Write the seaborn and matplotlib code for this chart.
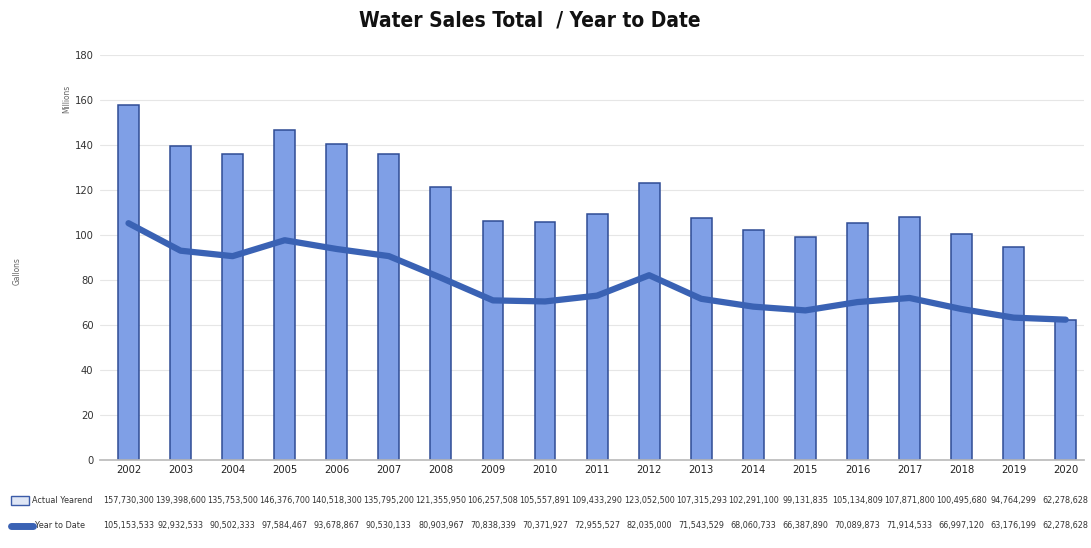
import matplotlib
matplotlib.use("Agg")
import matplotlib.pyplot as plt
import seaborn as sns
import pandas as pd
from matplotlib.transforms import blended_transform_factory
from matplotlib.patches import Rectangle
from matplotlib.lines import Line2D

years = ["2002", "2003", "2004", "2005", "2006", "2007", "2008", "2009", "2010", "2011",
         "2012", "2013", "2014", "2015", "2016", "2017", "2018", "2019", "2020"]
actual_yearend = [157730300, 139398600, 135753500, 146376700, 140518300, 135795200, 121355950,
                  106257508, 105557891, 109433290, 123052500, 107315293, 102291100, 99131835,
                  105134809, 107871800, 100495680, 94764299, 62278628]
year_to_date = [105153533, 92932533, 90502333, 97584467, 93678867, 90530133, 80903967,
                70838339, 70371927, 72955527, 82035000, 71543529, 68060733, 66387890,
                70089873, 71914533, 66997120, 63176199, 62278628]
y_ticks = [0, 20, 40, 60, 80, 100, 120, 140, 160, 180]

sns.set_theme(style="white")
plt.rcParams["font.family"] = ["DejaVu Sans"]
plt.rcParams["font.stretch"] = "condensed"

df = pd.DataFrame({"year": years,
                   "actual": [v / 1e6 for v in actual_yearend],
                   "ytd": [v / 1e6 for v in year_to_date]})

fig = plt.figure(figsize=(10.91, 5.48), dpi=100)
ax = fig.add_axes([0.092, 0.161, 0.902, 0.739])

bar_color = "#7f9fe6"
line_color = "#3a62b4"
sns.barplot(data=df, x="year", y="actual", order=years, color=bar_color, width=0.40,
            edgecolor="#2f4c94", linewidth=1.1, ax=ax, saturation=1)
sns.lineplot(x=list(range(len(years))), y=df["ytd"], color=line_color, linewidth=4.5,
             ax=ax, solid_joinstyle="round", solid_capstyle="round")

ax.set_xlim(-0.54, 18.36)
ax.set_ylim(0, 180)
ax.set_yticks(y_ticks)
ax.set_yticklabels([str(t) for t in y_ticks], fontsize=8, color="#333333")
ax.tick_params(axis="y", length=0, pad=5)
ax.tick_params(axis="x", length=0, pad=4, labelsize=8, labelcolor="#222222")
ax.set_xlabel("")
ax.set_ylabel("")
for t in y_ticks[1:]:
    ax.axhline(t, color="#e6e6e6", linewidth=0.8, zorder=0)
for s in ["top", "right", "left"]:
    ax.spines[s].set_visible(False)
ax.spines["bottom"].set_color("#bbbbbb")
ax.set_axisbelow(True)

fig.text(0.486, 0.963, "Water Sales Total  / Year to Date", ha="center", va="center",
         fontsize=15, fontweight="bold", color="#111111")
fig.text(0.016, 0.505, "Gallons", rotation=90, ha="center", va="center", fontsize=6,
         color="#666666")
fig.text(0.061, 0.82, "Millions", rotation=90, ha="center", va="center", fontsize=6,
         color="#666666")

trans = blended_transform_factory(ax.transData, fig.transFigure)
for i in range(len(years)):
    ax.text(i, 0.086, f"{actual_yearend[i]:,}", transform=trans, ha="center", va="center",
            fontsize=6.5, color="#333333", clip_on=False)
    ax.text(i, 0.041, f"{year_to_date[i]:,}", transform=trans, ha="center", va="center",
            fontsize=6.5, color="#333333", clip_on=False)

fig.text(0.029, 0.086, "Actual Yearend", ha="left", va="center", fontsize=6.5, color="#333333")
fig.text(0.032, 0.041, "Year to Date", ha="left", va="center", fontsize=6.5, color="#333333")
fig.patches.append(Rectangle((0.010, 0.079), 0.017, 0.016, transform=fig.transFigure,
                             facecolor="#dfe6f5", edgecolor="#3b5ba8", linewidth=1))
fig.lines.append(Line2D([0.010, 0.030], [0.041, 0.041], transform=fig.transFigure,
                        color=line_color, linewidth=5))

fig.savefig("out.png", dpi=100)
